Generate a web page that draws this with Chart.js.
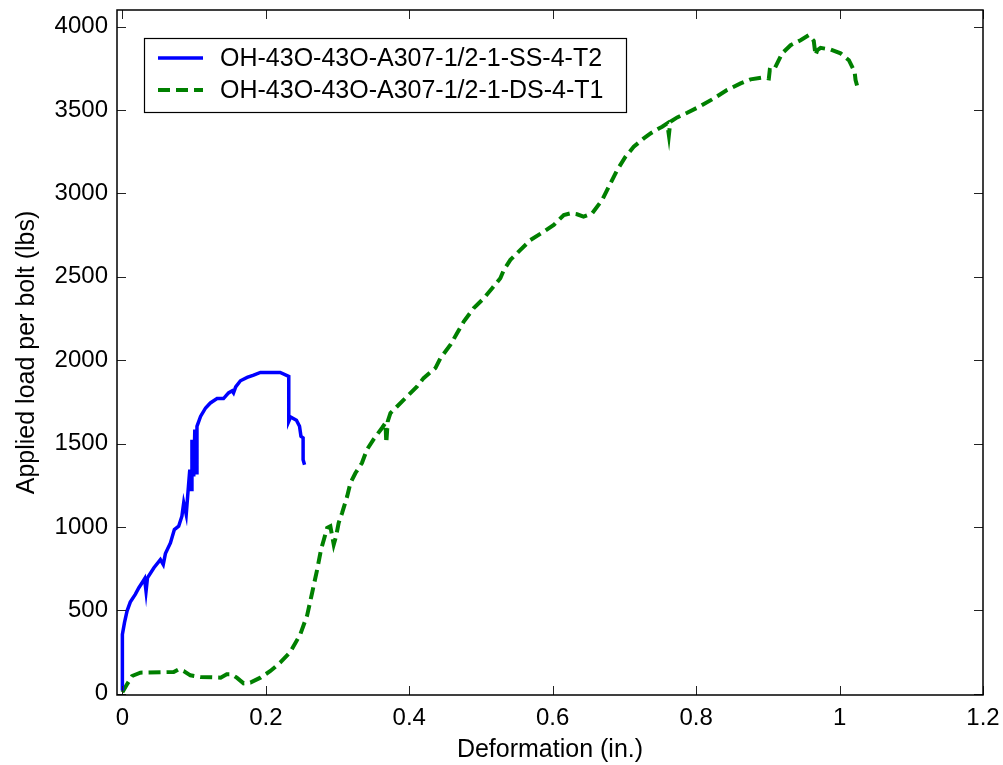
<!DOCTYPE html>
<html>
<head>
<meta charset="utf-8">
<script src="https://cdn.jsdelivr.net/npm/chart.js@4.4.1/dist/chart.umd.min.js"></script>
<style>
  html, body { margin: 0; padding: 0; background: #fff; }
  #plot { display: block; }
</style>
</head>
<body>
<canvas id="plot" width="1003" height="765"></canvas>
<script>
// SS-4-T2 test (single shear)
const blueX = [0, 0, 0.003, 0.0065, 0.011, 0.018, 0.023, 0.0275, 0.031, 0.033, 0.035, 0.044, 0.053, 0.057, 0.06, 0.067,
  0.0725, 0.0785, 0.083, 0.0855, 0.089, 0.091, 0.094, 0.096, 0.097, 0.0995, 0.101, 0.103, 0.104, 0.109, 0.116, 0.1227,
  0.132, 0.141, 0.148, 0.153, 0.155, 0.158, 0.1646, 0.174, 0.183, 0.1925, 0.220, 0.232, 0.232, 0.2345, 0.2427, 0.247,
  0.249, 0.252, 0.252, 0.254];
const blueY = [20, 356, 428, 496, 550, 596, 636, 666, 690, 615, 696, 756, 805, 775, 841, 905,
  985, 1005, 1065, 1145, 1075, 1184, 1344, 1225, 1524, 1304, 1584, 1326, 1604, 1663, 1714, 1744,
  1770, 1770, 1804, 1817, 1804, 1840, 1877, 1897, 1911, 1927, 1927, 1903, 1634, 1660, 1640, 1604,
  1544, 1534, 1404, 1374];

// DS-4-T1 test (double shear)
const greenX = [0, 0.0065, 0.0135, 0.025, 0.0715, 0.0785, 0.0855, 0.0948, 0.109, 0.137, 0.1455, 0.1525, 0.1595, 0.169,
  0.1785, 0.1925, 0.2064, 0.220, 0.234, 0.248, 0.2576, 0.2646, 0.2716, 0.277, 0.281, 0.2855, 0.290, 0.2947, 0.298,
  0.3016, 0.3064, 0.3134, 0.318, 0.325, 0.334, 0.341, 0.350, 0.362, 0.3668, 0.368, 0.370, 0.3738, 0.383, 0.397, 0.411,
  0.420, 0.4365, 0.4435, 0.4575, 0.4668, 0.476, 0.490, 0.504, 0.5156, 0.527, 0.532, 0.541, 0.555, 0.569, 0.5876,
  0.6015, 0.6155, 0.625, 0.634, 0.643, 0.655, 0.669, 0.6806, 0.690, 0.7015, 0.713, 0.727, 0.7364, 0.748, 0.7527,
  0.7597, 0.762, 0.764, 0.7736, 0.7876, 0.806, 0.8247, 0.843, 0.862, 0.876, 0.894, 0.9014, 0.9027, 0.908, 0.913,
  0.920, 0.9317, 0.9456, 0.957, 0.964, 0.9665, 0.969, 0.9735, 0.9874, 1.0014, 1.013, 1.021, 1.0223, 1.0246];
const greenY = [10, 57, 107, 127, 131, 147, 137, 111, 101, 97, 117, 117, 97, 63,
  67, 97, 137, 187, 250, 356, 470, 606, 745, 865, 925, 995, 1005, 895, 945,
  1025, 1085, 1184, 1265, 1324, 1384, 1464, 1524, 1594, 1624, 1504, 1634, 1684, 1723, 1783, 1843,
  1893, 1953, 2013, 2093, 2163, 2232, 2313, 2372, 2432, 2492, 2542, 2602, 2662, 2721, 2771,
  2811, 2871, 2881, 2875, 2861, 2881, 2961, 3061, 3141, 3220, 3280, 3330, 3360, 3390, 3400,
  3420, 3350, 3430, 3456, 3484, 3524, 3570, 3620, 3660, 3684, 3696, 3690, 3740, 3735, 3780,
  3840, 3889, 3919, 3949, 3915, 3829, 3859, 3873, 3863, 3840, 3799, 3729, 3680, 3644];

const seriesNames = ['OH-43O-43O-A307-1/2-1-SS-4-T2', 'OH-43O-43O-A307-1/2-1-DS-4-T1'];

const xTicks = [0, 0.2, 0.4, 0.6, 0.8, 1, 1.2];
const xTickLabels = ['0', '0.2', '0.4', '0.6', '0.8', '1', '1.2'];
const yTicks = [0, 500, 1000, 1500, 2000, 2500, 3000, 3500, 4000];

const FONT = 'Liberation Sans, Arial, Helvetica, sans-serif';

const toPoints = (xs, ys) => xs.map((x, i) => ({ x, y: ys[i] }));

// box around the axes with inward ticks on all four sides
const framePlugin = {
  id: 'frame',
  afterDraw(chart) {
    const { ctx, chartArea: a, scales } = chart;
    const len = 9;
    ctx.save();
    ctx.strokeStyle = '#222';
    ctx.lineWidth = 1;
    ctx.beginPath();
    xTicks.forEach(v => {
      const px = Math.round(scales.x.getPixelForValue(v)) + 0.5;
      ctx.moveTo(px, a.bottom); ctx.lineTo(px, a.bottom - len);
      ctx.moveTo(px, a.top); ctx.lineTo(px, a.top + len);
    });
    yTicks.forEach(v => {
      const py = Math.round(scales.y.getPixelForValue(v)) + 0.5;
      ctx.moveTo(a.left, py); ctx.lineTo(a.left + len, py);
      ctx.moveTo(a.right, py); ctx.lineTo(a.right - len, py);
    });
    ctx.stroke();
    ctx.strokeStyle = '#000';
    ctx.lineWidth = 1.5;
    ctx.strokeRect(a.left, a.top, a.right - a.left, a.bottom - a.top);
    ctx.restore();
  }
};

// matlab style legend box in the upper left
const boxLegend = {
  id: 'boxLegend',
  afterDraw(chart) {
    const ctx = chart.ctx;
    const bx = 144, by = 38, bw = 482, bh = 74;
    ctx.save();
    ctx.fillStyle = '#fff';
    ctx.fillRect(bx, by, bw, bh);
    ctx.strokeStyle = '#000';
    ctx.lineWidth = 1.2;
    ctx.strokeRect(bx + 0.5, by + 0.5, bw, bh);
    chart.data.datasets.forEach((ds, i) => {
      const y = by + 20 + i * 32;
      ctx.strokeStyle = ds.borderColor;
      ctx.lineWidth = ds.borderWidth;
      ctx.setLineDash(ds.borderDash || []);
      ctx.beginPath();
      ctx.moveTo(158, y);
      ctx.lineTo(203, y);
      ctx.stroke();
      ctx.setLineDash([]);
      ctx.fillStyle = '#000';
      ctx.font = '25px ' + FONT;
      ctx.textBaseline = 'middle';
      ctx.fillText(ds.label, 220, y + 1);
    });
    ctx.restore();
  }
};

new Chart(document.getElementById('plot'), {
  type: 'scatter',
  data: {
    datasets: [{
      label: seriesNames[0],
      data: toPoints(blueX, blueY),
      showLine: true,
      borderColor: '#0000ff',
      borderWidth: 3.5,
      pointRadius: 0,
      tension: 0
    }, {
      label: seriesNames[1],
      data: toPoints(greenX, greenY),
      showLine: true,
      borderColor: '#008000',
      borderWidth: 4,
      borderDash: [12, 6],
      pointRadius: 0,
      tension: 0
    }]
  },
  options: {
    responsive: false,
    animation: false,
    devicePixelRatio: 1,
    layout: { padding: { top: 10, right: 20, left: 0, bottom: 0 } },
    plugins: {
      legend: { display: false },
      tooltip: { enabled: false }
    },
    scales: {
      x: {
        type: 'linear',
        min: -0.0075,
        max: 1.2,
        afterBuildTicks: s => { s.ticks = xTicks.map(v => ({ value: v })); },
        afterFit: s => { s.height = 70; s.paddingLeft = 0; s.paddingRight = 0; },
        grid: { display: false, drawTicks: false },
        border: { display: false },
        ticks: {
          font: { family: FONT, size: 24 },
          color: '#000',
          padding: 9,
          maxRotation: 0,
          callback: v => xTickLabels[xTicks.indexOf(v)] ?? ''
        },
        title: {
          display: true,
          text: 'Deformation (in.)',
          color: '#000',
          font: { family: FONT, size: 25 },
          padding: { top: 0, bottom: 0 }
        }
      },
      y: {
        type: 'linear',
        min: -7,
        max: 4100,
        afterBuildTicks: s => { s.ticks = yTicks.map(v => ({ value: v })); },
        afterFit: s => { s.width = 117; s.paddingTop = 0; s.paddingBottom = 0; },
        grid: { display: false, drawTicks: false },
        border: { display: false },
        ticks: {
          font: { family: FONT, size: 24 },
          color: '#000',
          padding: 9,
          callback: v => String(v)
        },
        title: {
          display: true,
          text: 'Applied load per bolt (lbs)',
          color: '#000',
          font: { family: FONT, size: 25 },
          padding: { top: 12, bottom: 0 }
        }
      }
    }
  },
  plugins: [framePlugin, boxLegend]
});
</script>
</body>
</html>
